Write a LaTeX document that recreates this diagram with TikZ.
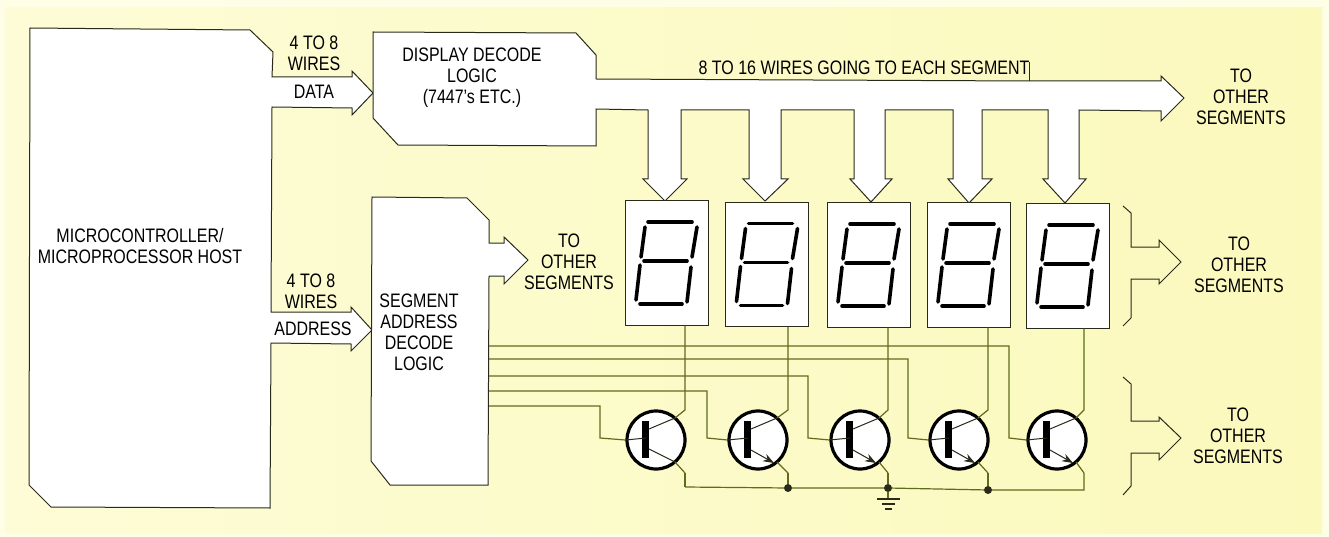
\documentclass[tikz,border=0pt]{standalone}
\usepackage{fontspec}
\setmainfont[FakeStretch=0.82]{Liberation Sans}
\usetikzlibrary{arrows.meta,positioning}
\definecolor{paperl}{HTML}{FDFCD6}
\definecolor{paperr}{HTML}{FBF9BC}
\definecolor{edge}{HTML}{FEFDE6}
\definecolor{ink}{HTML}{2A2A1A}
\definecolor{olive}{HTML}{5F6C1C}

\begin{document}
\begin{tikzpicture}[
 x=1pt,y=-1pt,
 lbl/.style={align=center,inner sep=0pt,text=black,font=\fontsize{19.5}{21}\selectfont},
 blk/.style={draw=ink,fill=white,line width=1pt,line join=miter},
 brk/.style={draw=ink,line width=1pt},
 disp/.style={draw=ink,fill=white,line width=1pt,minimum width=83pt,minimum height=124pt,inner sep=0pt},
 seg/.style={draw=black,line width=3.6pt,line cap=round},
 wire/.style={draw=olive,line width=1.2pt},
 trans/.style={circle,draw=black,fill=white,line width=3.2pt,minimum size=58pt,inner sep=0pt},
 inner/.style={draw=ink,line width=1pt},
 dot/.style={circle,fill=ink,minimum size=8pt,inner sep=0pt}]
\useasboundingbox (0,0) rectangle (1329,537);
\fill[edge] (0,0) rectangle (1329,537);
\shade[left color=paperl,right color=paperr] (5,8) rectangle (1322,533);

\draw[blk] (30,28)--(250,30)--(273,52)--(272,77)--(352,77)--(352,71)--(373,93)--(352,115)--(352,108)--(272,107)
 --(271,312)--(351,312)--(351,307)--(372,330)--(351,351)--(351,344)--(271,343)--(270,508)--(51,507)--(29,485)--cycle;

\draw[blk] (373,32)--(576,33)--(596,55)--(596,79)--(1029,81)--(1161,81)--(1161,76)--(1184,98)--(1161,121)--(1161,111)
 --(1079,110)--(1079,179)--(1086,179)--(1065,203)--(1043,179)--(1048,179)--(1048,110)
 --(982,110)--(982,179)--(992,179)--(969,203)--(948,179)--(953,179)--(953,110)
 --(885,110)--(885,179)--(892,179)--(871,202)--(850,179)--(854,179)--(854,110)
 --(781,110)--(781,179)--(788,179)--(765,201)--(743,179)--(749,179)--(749,110)
 --(681,110)--(681,179)--(687,179)--(665,201)--(643,179)--(648,179)--(648,110)
 --(596,109)--(596,146)--(398,145)--(373,118)--cycle;
\draw[brk] (1029,62)--(1029,81);

\draw[blk] (372,197)--(467,198)--(489,220)--(489,243)--(504,243)--(504,237)--(528,260)--(504,284)--(504,276)--(489,276)
 --(488,485)--(390,485)--(371,461)--cycle;

\draw[brk] (1123,206)--(1131,213)--(1131,247)--(1159,247)--(1159,240)--(1181,262)--(1159,284)--(1159,279)--(1131,279)--(1131,318)--(1123,326);
\draw[brk] (1123,377)--(1131,384)--(1131,421)--(1159,421)--(1159,417)--(1181,438)--(1159,460)--(1159,453)--(1131,453)--(1131,486)--(1123,495);

\foreach \n/\x/\y in {1/666.5/263,2/767/264.5,3/868.5/265,4/968.5/265,5/1067.5/266} {
 \node[disp] (d\n) at (\x,\y) {};
 \begin{scope}[shift={(d\n.center)}]
 \draw[seg] (-18.5,-41)--(25.5,-41);
 \draw[seg] (-22.5,-2)--(20.5,-2);
 \draw[seg] (-26.5,41)--(15.5,41);
 \draw[seg] (-21.5,-36)--(-25.5,-6);
 \draw[seg] (-26.5,2)--(-30.5,37);
 \draw[seg] (30.5,-36)--(25.5,-6);
 \draw[seg] (24.5,4)--(20.5,39);
 \end{scope}
}

\foreach \n/\x/\cx in {1/656/685,2/758/788,3/860/888,4/959/988,5/1057/1084} {
 \node[trans] (t\n) at (\x,440) {};
 \coordinate (c\n) at (\cx,410);
 \coordinate (e\n) at (\cx,473);
 \draw[wire] (d\n.south -| c\n)--(c\n)--(\x+19,418);
 \draw[wire] (\x+19,462)--(e\n);
 \draw[inner] (\x-7,429)--(\x+19,418);
 \draw[line width=7pt,draw=black,line cap=butt] (\x-10.5,421)--(\x-10.5,458);
}
\foreach \n/\x in {1/656,2/758,3/860,4/959,5/1057}
 \draw[inner] (t\n.west)--(\x-10,438);
\draw[inner] (649,449)--(675,462);
\foreach \n/\x in {2/758,3/860,4/959,5/1057}
 \draw[inner,-{Stealth[length=11pt,width=8pt]}] (\x-7,450)--(\x+16,463);

\foreach \n/\y/\x in {1/406/600,2/391/707,3/376/808,4/359/908,5/346/1009} {
 \coordinate (w\n) at (489,\y);
 \draw[wire] (w\n)-|(\x,438)--(t\n.west);
}

\coordinate (g1) at (685,487);
\coordinate (g5) at (1084,490);
\node[dot] (dot2) at (788,488) {};
\node[dot] (dot3) at (888,488) {};
\node[dot] (dot4) at (988,490) {};
\draw[wire] (g1)--(dot2)--(dot3)--(dot4)--(g5)--(e5);
\draw[wire] (e1)--(g1);
\draw[wire] (e2)--(dot2);
\draw[wire] (e3)--(dot3);
\draw[wire] (e4)--(dot4);
\coordinate (gnd) at (888,499);
\draw[wire] (dot3)--(gnd);
\draw[draw=ink,line width=1.8pt] (877,499)--(900,499) (882,504)--(895,504) (885,509)--(892,509);

\node[lbl] (hosttxt) at (140,246) {MICROCONTROLLER/\\MICROPROCESSOR HOST};
\node[lbl] (wires1) at (314,53) {4 TO 8\\WIRES};
\node[lbl] (data) at (314,92) {DATA};
\node[lbl] (wires2) at (311,291) {4 TO 8\\WIRES};
\node[lbl] (addr) at (313,329) {ADDRESS};
\node[lbl] (dectxt) at (472,78) {DISPLAY DECODE\\LOGIC\\(7447's ETC.)};
\node[lbl] (segtxt) at (419,332) {SEGMENT\\ADDRESS\\DECODE\\LOGIC};
\node[lbl] (other1) at (569,262) {TO\\OTHER\\SEGMENTS};
\node[lbl] (bustxt) at (864,68) {8 TO 16 WIRES GOING TO EACH SEGMENT};
\node[lbl] (other2) at (1241,97) {TO\\OTHER\\SEGMENTS};
\node[lbl] (other3) at (1239,265) {TO\\OTHER\\SEGMENTS};
\node[lbl] (other4) at (1238,436) {TO\\OTHER\\SEGMENTS};
\end{tikzpicture}
\end{document}
